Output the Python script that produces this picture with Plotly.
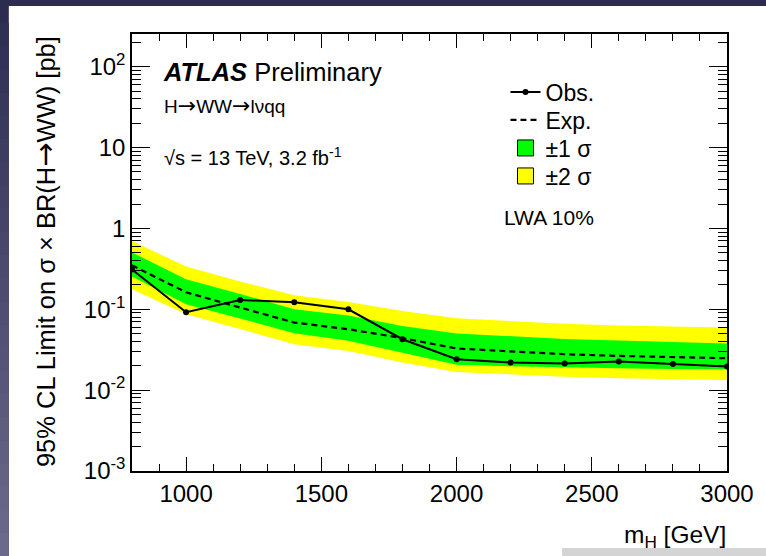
import plotly.graph_objects as go

# Mass points [GeV]
mass = [800, 1000, 1200, 1400, 1600, 1800, 2000, 2200, 2400, 2600, 2800, 3000]

# 95% CL upper limits on sigma x BR(H->WW) [pb]
observed = [0.31, 0.092, 0.130, 0.122, 0.100, 0.0426, 0.0241, 0.0220, 0.0214, 0.0226, 0.0211, 0.0196]
expected = [0.35, 0.162, 0.105, 0.0685, 0.0566, 0.044, 0.0327, 0.0300, 0.0278, 0.0265, 0.0255, 0.0248]
plus1 = [0.505, 0.235, 0.155, 0.100, 0.084, 0.0623, 0.0501, 0.046, 0.043, 0.041, 0.039, 0.0378]
minus1 = [0.255, 0.115, 0.077, 0.0505, 0.0407, 0.0291, 0.0206, 0.0197, 0.0190, 0.0186, 0.0183, 0.0181]
plus2 = [0.70, 0.337, 0.220, 0.149, 0.123, 0.0952, 0.0774, 0.071, 0.066, 0.063, 0.061, 0.0594]
minus2 = [0.177, 0.087, 0.057, 0.037, 0.0305, 0.0220, 0.0168, 0.0156, 0.0146, 0.0140, 0.0136, 0.0133]

# Axis ticks
y_tickvals = [1e-3, 1e-2, 1e-1, 1, 10, 100]
y_ticktext = ["10<sup>-3</sup>", "10<sup>-2</sup>", "10<sup>-1</sup>", "1", "10", "10<sup>2</sup>"]
x_tickvals = [1000, 1500, 2000, 2500, 3000]
x_ticktext = ["1000", "1500", "2000", "2500", "3000"]

FONT = "Liberation Sans, Arial, Helvetica, sans-serif"
YELLOW = "#ffff00"
GREEN = "#00ff00"


def arrow(size):
    return '<span style="font-family:DejaVu Sans;font-size:%.1fpx">\u2192</span>' % size


fig = go.Figure()

# +-2 sigma band
fig.add_trace(go.Scatter(x=mass, y=minus2, mode="lines", line=dict(width=0),
                         showlegend=False, hoverinfo="skip"))
fig.add_trace(go.Scatter(x=mass, y=plus2, mode="lines", line=dict(width=0),
                         fill="tonexty", fillcolor=YELLOW, showlegend=False, hoverinfo="skip"))
# +-1 sigma band
fig.add_trace(go.Scatter(x=mass, y=minus1, mode="lines", line=dict(width=0),
                         showlegend=False, hoverinfo="skip"))
fig.add_trace(go.Scatter(x=mass, y=plus1, mode="lines", line=dict(width=0),
                         fill="tonexty", fillcolor=GREEN, showlegend=False, hoverinfo="skip"))

# Observed and expected limits, each with its own legend row
fig.add_trace(go.Scatter(x=mass, y=observed, mode="lines+markers", name="Obs.",
                         line=dict(color="black", width=2),
                         marker=dict(color="black", size=6), legend="legend"))
fig.add_trace(go.Scatter(x=mass, y=expected, mode="lines", name="Exp.",
                         line=dict(color="black", width=2.2, dash="6px,4px"),
                         legend="legend2"))

# Legend rows for the bands
fig.add_trace(go.Scatter(x=[None], y=[None], mode="markers", name="\u00b11 \u03c3",
                         marker=dict(symbol="square", size=16, color=GREEN,
                                     line=dict(color="black", width=1)),
                         legend="legend3"))
fig.add_trace(go.Scatter(x=[None], y=[None], mode="markers", name="\u00b12 \u03c3",
                         marker=dict(symbol="square", size=16, color=YELLOW,
                                     line=dict(color="black", width=1)),
                         legend="legend4"))

# Page geometry in pixels
W, H = 766, 556
L, R, T, B = 132, 731, 34, 471


def px_x(p):
    return (p - L) / (R - L)


def px_y(p):
    return (B - p) / (B - T)


# White page on a dark slide: dark shows along the top and left edges
shapes = [dict(type="rect", xref="paper", yref="paper",
               x0=px_x(8), x1=px_x(W + 40), y0=px_y(H + 40), y1=px_y(6),
               fillcolor="white", line=dict(width=0), layer="below")]
# Left edge gets lighter towards the bottom
n_seg = 24
top_c = (0x2d, 0x2c, 0x52)
bot_c = (0x6b, 0x6a, 0x8a)
for i in range(1, n_seg):
    f = i / (n_seg - 1)
    c = tuple(int(round(top_c[k] + (bot_c[k] - top_c[k]) * f)) for k in range(3))
    y0 = H * i / n_seg
    y1 = H * (i + 1) / n_seg + 0.5
    shapes.append(dict(type="rect", xref="paper", yref="paper",
                       x0=px_x(-2), x1=px_x(8), y0=px_y(y1 + 20 * (i == n_seg - 1)), y1=px_y(y0),
                       fillcolor="rgb(%d,%d,%d)" % c, line=dict(width=0), layer="below"))
# Grey strip at the bottom right
shapes.append(dict(type="rect", xref="paper", yref="paper",
                   x0=px_x(565), x1=px_x(W + 40), y0=px_y(H + 40), y1=px_y(548),
                   fillcolor="#d4d4d4", line=dict(width=0), layer="below"))


def note(text, x, y, size, xanchor="left", yanchor="middle", angle=0):
    return dict(text=text, x=px_x(x), y=px_y(y), xref="paper", yref="paper",
                xanchor=xanchor, yanchor=yanchor, textangle=angle, showarrow=False,
                font=dict(family=FONT, size=size, color="black"))


annotations = [
    note("<b><i>ATLAS</i></b> Preliminary", 161, 72, 25.5),
    note("H" + arrow(22) + "WW" + arrow(22) + "l\u03bdqq", 162, 105, 19),
    note("\u221as = 13 TeV, 3.2 fb<sup>-1</sup>", 162, 156, 20),
    note("LWA 10%", 504, 217, 21),
    note("95% CL Limit on \u03c3 \u00d7 BR(H" + arrow(29) + "WW) [pb]", 44, 34, 25.5,
         xanchor="center", yanchor="top", angle=-90),
    note("m<sub>H</sub> [GeV]", 732, 536, 24.5, xanchor="right"),
]


def legend_row(y):
    return dict(x=px_x(508), y=px_y(y), xanchor="left", yanchor="middle",
                bgcolor="rgba(0,0,0,0)", borderwidth=0,
                font=dict(family=FONT, size=23, color="black"),
                itemwidth=30)


fig.update_layout(
    width=W, height=H, autosize=False,
    margin=dict(l=L, r=W - R, t=T, b=H - B, pad=0),
    paper_bgcolor="#2c2b50", plot_bgcolor="white",
    font=dict(family=FONT, color="black"),
    showlegend=True,
    legend=legend_row(92),
    legend2=legend_row(120),
    legend3=legend_row(148),
    legend4=legend_row(176),
    shapes=shapes,
    annotations=annotations,
)

fig.update_xaxes(
    range=[800, 3000], showgrid=False, zeroline=False,
    showline=True, linecolor="black", linewidth=1.5, mirror="ticks",
    ticks="inside", ticklen=14, tickwidth=1.2, tickcolor="black",
    tickvals=x_tickvals, ticktext=x_ticktext,
    tickfont=dict(family=FONT, size=24, color="black"),
    minor=dict(ticks="inside", ticklen=7, tickwidth=1.2, tickcolor="black",
               tickvals=list(range(800, 3001, 100)), showgrid=False),
)

minor_y = [m * 10 ** e for e in range(-3, 3) for m in range(2, 10)]
fig.update_yaxes(
    type="log", range=[-3, 2.404], showgrid=False, zeroline=False,
    showline=True, linecolor="black", linewidth=1.5, mirror="ticks",
    ticks="inside", ticklen=18, tickwidth=1.2, tickcolor="black",
    tickvals=y_tickvals, ticktext=y_ticktext,
    tickfont=dict(family=FONT, size=24, color="black"),
    minor=dict(ticks="inside", ticklen=9, tickwidth=1.2, tickcolor="black",
               tickvals=minor_y, showgrid=False),
)

fig.write_html(
    "out.html",
    config={"responsive": False, "displayModeBar": False},
    post_script="document.body.style.margin='0';"
                "document.body.style.overflow='hidden';"
                "document.documentElement.style.overflow='hidden';",
)
